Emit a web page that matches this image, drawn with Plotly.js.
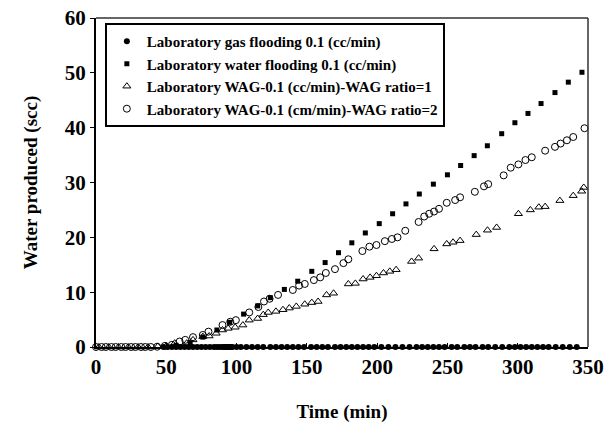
<!DOCTYPE html>
<html>
<head>
<meta charset="utf-8">
<script src="https://cdn.plot.ly/plotly-3.0.1.min.js"></script>
<style>html,body{margin:0;padding:0;background:#fff;}#chart{width:613px;height:428px;}</style>
</head>
<body>
<div id="chart"></div>
<script>
// Laboratory gas flooding 0.1 (cc/min)
const gasTime = [48,51,54,57,60,63,66,69,72,75,78,81,84,86,88,90,91,92,93,94,95,96,97,100,103,107,111,115,119,124,128,132,136,140,144,148,153,157,161,165,170,174,178,182,186,190,194,198,203,208,213,218,223,228,232,236,240,244,248,253,257,262,266,270,275,279,284,289,294,298,302,306,310,314,318,322,327,332,337,342];
const gasWater = gasTime.map(() => 0);

// Laboratory water flooding 0.1 (cc/min)
const wfTime  = [57,67,76,86,95,105,115,124,134,143.5,153.5,163,172.5,182,191.6,201.5,211,220.5,230,240,250,259.4,269,278.4,288.6,298,307.3,316.6,326.5,336,345.7];
const wfWater = [0.3,0.8,1.8,3.1,4.5,6.0,7.5,9.0,10.5,12.0,13.8,15.4,17.2,19.0,20.8,22.5,24.3,26.1,27.9,29.7,31.4,33.1,34.9,36.7,38.9,40.9,42.6,44.4,46.4,48.3,50.1];

// Laboratory WAG-0.1 (cc/min)-WAG ratio=1
const wag1Time  = [2,9,16,23,30,37,44,50,56,64.5,69,76,80.5,85.5,90,94,99,104.5,109,115,119,122.5,128,133,137.5,142.5,148.5,153.5,158,164,169,179.5,184.5,190,195,199.5,204.5,209,213.5,224.5,229.5,240.5,249.5,254,259,270.5,278.5,285,300.5,309,315,319.5,330,339.5,345.5,347];
const wag1Water = [0,0,0,0,0,0,0.1,0.2,0.7,0.7,1.3,1.9,2.0,2.5,3.1,3.4,3.6,4.0,4.9,5.2,5.9,6.3,6.5,6.8,7.1,7.4,7.8,8.1,8.3,9.5,9.8,11.5,11.6,12.4,12.7,13.0,13.5,13.8,14.1,15.6,16.2,17.9,18.8,19.1,19.4,20.5,21.3,21.8,24.3,25.0,25.5,25.6,26.7,27.6,28.4,29.1];

// Laboratory WAG-0.1 (cm/min)-WAG ratio=2
const wag2Time  = [0,4,7,11,14,18,21,25,28,32,35,39,43.5,49,54,59.5,63.5,69,76,80,90,95.5,99.5,109,115.5,119.5,123.5,129.5,140,144.5,148.5,155,159.5,163.5,170,176,179.5,189.5,194.5,199.5,205.5,210.5,214.5,220,229.5,233.5,237,240.5,244,249.5,255.5,259,269.5,276,279,290,295,300.5,305.5,310,319.5,326.5,330.5,335,339.5,347.5];
const wag2Water = [0,0,0,0,0,0,0,0,0,0,0,0,0.05,0.2,0.4,1.0,1.3,1.8,2.2,2.8,4.0,4.6,4.9,6.3,7.3,8.3,8.8,9.5,10.4,11.2,11.5,12.2,12.7,13.5,14.2,15.3,16.0,17.5,18.3,18.6,19.3,19.7,20.0,21.2,22.8,23.8,24.3,24.7,25.2,26.3,26.8,27.3,28.3,29.3,29.7,31.3,32.7,33.3,34.1,34.6,35.8,36.5,37.1,37.7,38.3,39.9];

const seriesNames = [
  'Laboratory gas flooding 0.1 (cc/min)',
  'Laboratory water flooding 0.1 (cc/min)',
  'Laboratory WAG-0.1 (cc/min)-WAG ratio=1',
  'Laboratory WAG-0.1 (cm/min)-WAG ratio=2'
];

const xTicks = [0,50,100,150,200,250,300,350];
const yTicks = [0,10,20,30,40,50,60];

const FONT = 'Liberation Serif';

const traces = [
  {x: gasTime, y: gasWater, name: seriesNames[0], mode: 'markers', type: 'scatter', cliponaxis: false,
   marker: {symbol: 'circle', size: 6, color: '#000'}},
  {x: wfTime, y: wfWater, name: seriesNames[1], mode: 'markers', type: 'scatter', cliponaxis: false,
   marker: {symbol: 'square', size: 5, color: '#000'}},
  {x: wag1Time, y: wag1Water, name: seriesNames[2], mode: 'markers', type: 'scatter', cliponaxis: false,
   marker: {symbol: 'triangle-up-open', size: 7, color: '#000', line: {width: 1, color: '#000'}}},
  {x: wag2Time, y: wag2Water, name: seriesNames[3], mode: 'markers', type: 'scatter', cliponaxis: false,
   marker: {symbol: 'circle-open', size: 7, color: '#000', line: {width: 1, color: '#000'}}}
];

const layout = {
  width: 613, height: 428,
  margin: {l: 96, r: 25, t: 18, b: 81},
  paper_bgcolor: '#fff', plot_bgcolor: '#fff',
  showlegend: true,
  font: {family: FONT, color: '#000', weight: 700},
  xaxis: {
    range: [0, 350], tickvals: xTicks, ticktext: xTicks.map(String),
    showgrid: false, zeroline: false,
    showline: true, linecolor: '#000', linewidth: 2,
    ticks: 'inside', ticklen: 4, tickcolor: '#000', tickwidth: 1,
    tickfont: {family: FONT, size: 21, color: '#000', weight: 700},
    title: {text: 'Time (min)', font: {family: FONT, size: 19, color: '#000', weight: 700}, standoff: 26}
  },
  yaxis: {
    range: [0, 60], tickvals: yTicks, ticktext: yTicks.map(String),
    showgrid: false, zeroline: false,
    showline: true, linecolor: '#000', linewidth: 2,
    ticks: 'outside', ticklen: 4, tickcolor: '#000', tickwidth: 1,
    tickfont: {family: FONT, size: 21, color: '#000', weight: 700},
    title: {text: 'Water produced (scc)', font: {family: FONT, size: 19, color: '#000', weight: 700}, standoff: 22}
  },
  shapes: [
    {type: 'line', xref: 'paper', yref: 'paper', x0: 0, x1: 1, y0: 1, y1: 1, line: {color: '#333', width: 1.5}},
    {type: 'line', xref: 'paper', yref: 'paper', x0: 1, x1: 1, y0: 0, y1: 1, line: {color: '#333', width: 1.5}}
  ],
  legend: {
    x: 0.018, y: 0.985, xanchor: 'left', yanchor: 'top',
    bgcolor: '#fff', bordercolor: '#000', borderwidth: 2,
    font: {family: FONT, size: 15, color: '#000', weight: 700},
    tracegroupgap: 0, itemwidth: 30
  }
};

Plotly.newPlot('chart', traces, layout, {displayModeBar: false, staticPlot: true});
</script>
</body>
</html>
